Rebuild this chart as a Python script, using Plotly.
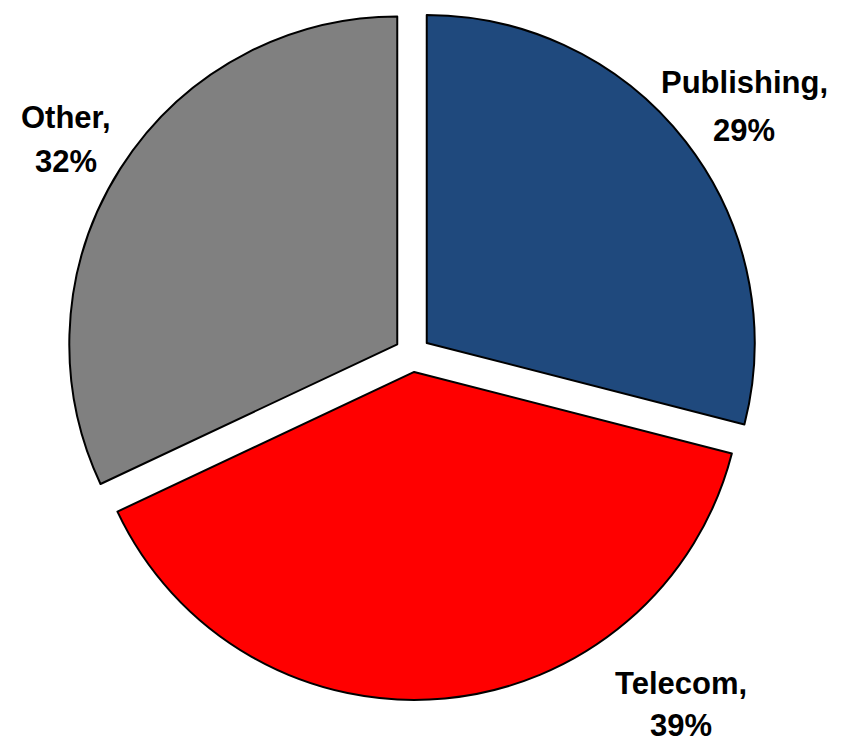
import plotly.graph_objects as go

# Share of revenue by segment (percent)
labels = ["Publishing", "Telecom", "Other"]
values = [29, 39, 32]
colors = ["#1F497D", "#FF0000", "#808080"]

W, H = 844, 747

# label placement: x centre and the y centres of the two text lines, in figure pixels
label_xy = {
    "Publishing": (736, 74, 122),
    "Telecom": (673, 675, 717),
    "Other": (58, 109, 153),
}

fig = go.Figure()

fig.add_trace(go.Pie(
    labels=labels,
    values=values,
    sort=False,
    direction="clockwise",
    rotation=0,
    pull=0.055,
    automargin=False,
    domain=dict(x=[0.0693, 0.8892], y=[0.0736, 1.0]),
    marker=dict(colors=colors, line=dict(color="black", width=2)),
    textinfo="none",
    showlegend=False,
    hoverinfo="label+percent",
))

font = dict(family="Liberation Sans, Arial, sans-serif", size=31, color="black")
for lab, val in zip(labels, values):
    x, y1, y2 = label_xy[lab]
    for txt, y in ((f"<b>{lab},</b>", y1), (f"<b>{val}%</b>", y2)):
        fig.add_annotation(
            x=x / W, y=1 - y / H, xref="paper", yref="paper",
            text=txt, showarrow=False, font=font,
            xanchor="center", yanchor="middle",
        )

fig.update_layout(
    width=W,
    height=H,
    paper_bgcolor="white",
    plot_bgcolor="white",
    margin=dict(l=0, r=0, t=0, b=0),
)

fig.write_html("out.html")
